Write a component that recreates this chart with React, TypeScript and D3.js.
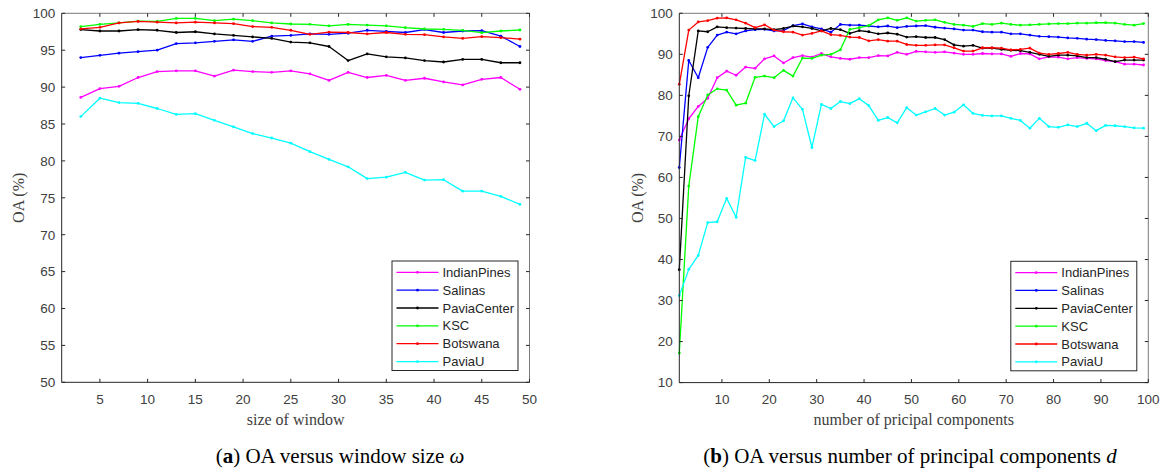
import React from "react";
import * as d3 from "d3";

// ---------- data ----------
const seriesNames = ["IndianPines", "Salinas", "PaviaCenter", "KSC", "Botswana", "PaviaU"];
const seriesColors = ["#ff00ff", "#0000ff", "#000000", "#00ff00", "#ff0000", "#00ffff"];

const windowSizes = [3, 5, 7, 9, 11, 13, 15, 17, 19, 21, 23, 25, 27, 29, 31, 33, 35, 37, 39, 41, 43, 45, 47, 49];
const winIndianPines = [88.6, 89.8, 90.1, 91.3, 92.1, 92.2, 92.2, 91.5, 92.3, 92.1, 92.0, 92.2, 91.8, 90.9, 92.0, 91.3, 91.6, 90.9, 91.2, 90.7, 90.3, 91.05, 91.3, 89.7];
const winSalinas = [94.0, 94.3, 94.6, 94.8, 95.0, 95.9, 96.0, 96.2, 96.4, 96.2, 96.9, 97.0, 97.2, 97.15, 97.3, 97.7, 97.55, 97.4, 97.8, 97.4, 97.6, 97.65, 96.9, 95.5];
const winPaviaCenter = [97.8, 97.6, 97.6, 97.8, 97.7, 97.4, 97.5, 97.2, 97.0, 96.8, 96.6, 96.1, 96.0, 95.5, 93.6, 94.5, 94.1, 93.95, 93.6, 93.4, 93.75, 93.75, 93.3, 93.3];
const winKSC = [98.2, 98.5, 98.7, 98.95, 98.9, 99.3, 99.3, 99.0, 99.2, 99.0, 98.7, 98.55, 98.5, 98.3, 98.5, 98.4, 98.3, 98.05, 97.87, 97.83, 97.69, 97.38, 97.6, 97.74];
const winBotswana = [97.9, 98.1, 98.7, 98.9, 98.8, 98.7, 98.8, 98.7, 98.6, 98.2, 98.1, 97.7, 97.15, 97.45, 97.4, 97.2, 97.4, 97.15, 97.1, 96.8, 96.6, 96.85, 96.7, 96.5];
const winPaviaU = [86.0, 88.5, 87.9, 87.8, 87.1, 86.3, 86.4, 85.5, 84.6, 83.7, 83.1, 82.4, 81.25, 80.2, 79.2, 77.6, 77.8, 78.45, 77.4, 77.45, 75.9, 75.9, 75.2, 74.1];

const components = [1, 3, 5, 7, 9, 11, 13, 15, 17, 19, 21, 23, 25, 27, 29, 31, 33, 35, 37, 39, 41, 43, 45, 47, 49, 51, 53, 55, 57, 59, 61, 63, 65, 67, 69, 71, 73, 75, 77, 79, 81, 83, 85, 87, 89, 91, 93, 95, 97, 99];
const pcIndianPines = [69.1, 74.3, 77.3, 79.3, 84.3, 85.9, 84.9, 86.9, 86.6, 88.9, 89.6, 87.9, 89.2, 89.7, 89.3, 90.2, 89.4, 89.0, 88.8, 89.2, 89.2, 89.7, 89.6, 90.5, 90.0, 90.7, 90.6, 90.5, 90.6, 90.3, 90.0, 90.0, 90.2, 90.1, 90.1, 89.5, 90.2, 90.1, 88.9, 89.4, 89.3, 88.9, 89.2, 89.0, 88.9, 88.5, 88.2, 87.6, 87.6, 87.4];
const pcSalinas = [62.4, 88.5, 84.3, 91.7, 94.7, 95.4, 95.0, 95.7, 96.0, 96.1, 95.7, 95.8, 97.0, 97.4, 96.7, 96.2, 95.4, 97.3, 97.1, 97.1, 96.9, 96.7, 96.9, 96.5, 96.8, 96.9, 97.0, 96.6, 96.4, 96.2, 95.9, 95.9, 95.5, 95.4, 95.4, 95.0, 95.0, 94.7, 94.4, 94.3, 94.2, 94.0, 93.9, 93.7, 93.6, 93.4, 93.3, 93.1, 93.1, 92.9];
const pcPaviaCenter = [37.5, 79.9, 95.7, 95.5, 96.7, 96.5, 96.4, 96.3, 96.2, 96.2, 96.0, 96.3, 96.9, 96.7, 96.3, 95.7, 96.3, 96.0, 95.1, 95.8, 95.5, 95.0, 95.2, 94.9, 94.2, 94.3, 94.1, 94.1, 93.6, 92.3, 92.0, 92.2, 91.5, 91.5, 91.2, 91.0, 90.9, 90.5, 90.0, 89.5, 89.8, 89.8, 89.6, 89.2, 89.2, 88.8, 88.2, 88.6, 88.6, 88.6];
const pcKSC = [17.2, 57.9, 74.8, 80.1, 81.6, 81.3, 77.6, 78.1, 84.4, 84.7, 84.3, 86.1, 84.7, 89.1, 89.0, 89.8, 90.0, 91.1, 96.1, 96.5, 97.0, 98.4, 98.9, 98.3, 98.9, 98.1, 98.3, 98.4, 97.8, 97.3, 97.1, 96.8, 97.5, 97.3, 97.6, 97.3, 97.1, 97.2, 97.3, 97.4, 97.5, 97.5, 97.6, 97.6, 97.7, 97.7, 97.6, 97.3, 97.1, 97.5];
const pcBotswana = [82.7, 95.9, 97.9, 98.2, 98.8, 98.9, 98.4, 97.6, 96.5, 97.2, 95.9, 95.5, 95.4, 94.7, 95.1, 95.7, 94.8, 94.6, 94.2, 94.1, 93.3, 93.6, 93.2, 93.2, 92.4, 92.2, 92.2, 92.3, 92.3, 91.6, 90.8, 90.8, 91.6, 91.6, 91.5, 91.1, 91.2, 91.5, 90.3, 90.0, 90.2, 90.5, 90.0, 89.8, 90.0, 89.8, 89.4, 89.2, 89.3, 88.9];
const pcPaviaU = [31.2, 37.6, 41.0, 49.0, 49.2, 54.9, 50.3, 64.9, 64.1, 75.4, 72.4, 73.8, 79.4, 76.6, 67.3, 77.8, 76.8, 78.5, 78.0, 79.2, 77.5, 73.9, 74.6, 73.3, 77.0, 75.2, 76.0, 76.8, 75.2, 75.9, 77.7, 75.6, 75.1, 75.0, 75.0, 74.4, 73.9, 72.0, 74.4, 72.4, 72.2, 72.8, 72.4, 73.2, 71.4, 72.7, 72.6, 72.4, 72.1, 72.0];

const leftXTicks = [5, 10, 15, 20, 25, 30, 35, 40, 45, 50];
const leftYTicks = [50, 55, 60, 65, 70, 75, 80, 85, 90, 95, 100];
const rightXTicks = [10, 20, 30, 40, 50, 60, 70, 80, 90, 100];
const rightYTicks = [10, 20, 30, 40, 50, 60, 70, 80, 90, 100];

const SANS = "'Liberation Sans', Arial, Helvetica, sans-serif";
const SERIF = "'Liberation Serif', 'Times New Roman', serif";
const AXIS = "#262626";

type ChartProps = {
  xs: number[];
  series: number[][];
  xDomain: [number, number];
  yDomain: [number, number];
  xRange: [number, number];
  yRange: [number, number];
  xTicks: number[];
  yTicks: number[];
  xLabel: string;
  yLabelOffset: number;
};

function Chart(p: ChartProps) {
  const x = d3.scaleLinear().domain(p.xDomain).range(p.xRange);
  const y = d3.scaleLinear().domain(p.yDomain).range(p.yRange);
  const [x0, x1] = p.xRange;
  const [yb, yt] = p.yRange;
  const tk = 3.5;
  const line = d3
    .line<number>()
    .x((_, i) => x(p.xs[i]))
    .y((d) => y(d));

  const legW = 126;
  const legH = 109.5;
  const legX = x1 - 11.5 - legW;
  const legY = yb - 11.8 - legH;
  const rowH = 17.85;

  return (
    <g>
      {p.series.map((s, si) => (
        <g key={si}>
          <path d={line(s) || ""} fill="none" stroke={seriesColors[si]} strokeWidth={1.3} strokeLinejoin="round" />
          {s.map((v, i) => (
            <circle key={i} cx={x(p.xs[i])} cy={y(v)} r={1.4} fill={seriesColors[si]} />
          ))}
        </g>
      ))}
      <line x1={x0} x2={x1} y1={yt} y2={yt} stroke="#7a7a7a" strokeWidth={1} />
      <line x1={x1} x2={x1} y1={yt} y2={yb} stroke="#7a7a7a" strokeWidth={1} />
      <line x1={x0} x2={x1} y1={yb} y2={yb} stroke={AXIS} strokeWidth={1} />
      <line x1={x0} x2={x0} y1={yt} y2={yb} stroke={AXIS} strokeWidth={1} />
      {p.xTicks.map((t) => (
        <g key={"x" + t}>
          <line x1={x(t)} x2={x(t)} y1={yb} y2={yb - tk} stroke={AXIS} />
          <line x1={x(t)} x2={x(t)} y1={yt} y2={yt + tk} stroke={AXIS} />
          <text x={x(t)} y={yb + 21.5} textAnchor="middle" fontFamily={SANS} fontSize={13.5} fill="#404040">
            {t}
          </text>
        </g>
      ))}
      {p.yTicks.map((t) => (
        <g key={"y" + t}>
          <line x1={x0} x2={x0 + tk} y1={y(t)} y2={y(t)} stroke={AXIS} />
          <line x1={x1} x2={x1 - tk} y1={y(t)} y2={y(t)} stroke={AXIS} />
          <text x={x0 - 6.5} y={y(t) + 4.8} textAnchor="end" fontFamily={SANS} fontSize={13.5} fill="#404040">
            {t}
          </text>
        </g>
      ))}
      <text x={(x0 + x1) / 2} y={yb + 42.5} textAnchor="middle" fontFamily={SERIF} fontSize={16} fill="#404040">
        {p.xLabel}
      </text>
      <text
        transform={`translate(${x0 - p.yLabelOffset},${(yt + yb) / 2}) rotate(-90)`}
        textAnchor="middle"
        dy="0.35em"
        fontFamily={SERIF}
        fontSize={16}
        fill="#404040"
      >
        OA (%)
      </text>
      <rect x={legX} y={legY} width={legW} height={legH} fill="#ffffff" stroke={AXIS} strokeWidth={1} />
      {seriesNames.map((n, i) => {
        const ry = legY + 11.3 + i * rowH;
        return (
          <g key={n}>
            <line x1={legX + 4.5} x2={legX + 46.5} y1={ry} y2={ry} stroke={seriesColors[i]} strokeWidth={1.3} />
            <circle cx={legX + 25.5} cy={ry} r={1.4} fill={seriesColors[i]} />
            <text x={legX + 50.5} y={ry + 4.6} fontFamily={SANS} fontSize={13} fill="#262626">
              {n}
            </text>
          </g>
        );
      })}
    </g>
  );
}

export default function App() {
  return (
    <svg width={1163} height={475} style={{ display: "block", position: "absolute", left: 0, top: 0 }}>
      <rect width={1163} height={475} fill="#ffffff" />
      <Chart
        xs={windowSizes}
        series={[winIndianPines, winSalinas, winPaviaCenter, winKSC, winBotswana, winPaviaU]}
        xDomain={[1, 50]}
        yDomain={[50, 100]}
        xRange={[61.7, 529.5]}
        yRange={[382.3, 13.3]}
        xTicks={leftXTicks}
        yTicks={leftYTicks}
        xLabel="size of window"
        yLabelOffset={43.4}
      />
      <Chart
        xs={components}
        series={[pcIndianPines, pcSalinas, pcPaviaCenter, pcKSC, pcBotswana, pcPaviaU]}
        xDomain={[1, 100]}
        yDomain={[10, 100]}
        xRange={[679.3, 1148.3]}
        yRange={[382.6, 13.3]}
        xTicks={rightXTicks}
        yTicks={rightYTicks}
        xLabel="number of pricipal components"
        yLabelOffset={41.6}
      />
      <text x={340} y={463} textAnchor="middle" fontFamily={SERIF} fontSize={21} fill="#000">
        (<tspan fontWeight="bold">a</tspan>) OA versus window size <tspan fontStyle="italic">ω</tspan>
      </text>
      <text x={910} y={463} textAnchor="middle" fontFamily={SERIF} fontSize={21} fill="#000">
        (<tspan fontWeight="bold">b</tspan>) OA versus number of principal components <tspan fontStyle="italic">d</tspan>
      </text>
    </svg>
  );
}
